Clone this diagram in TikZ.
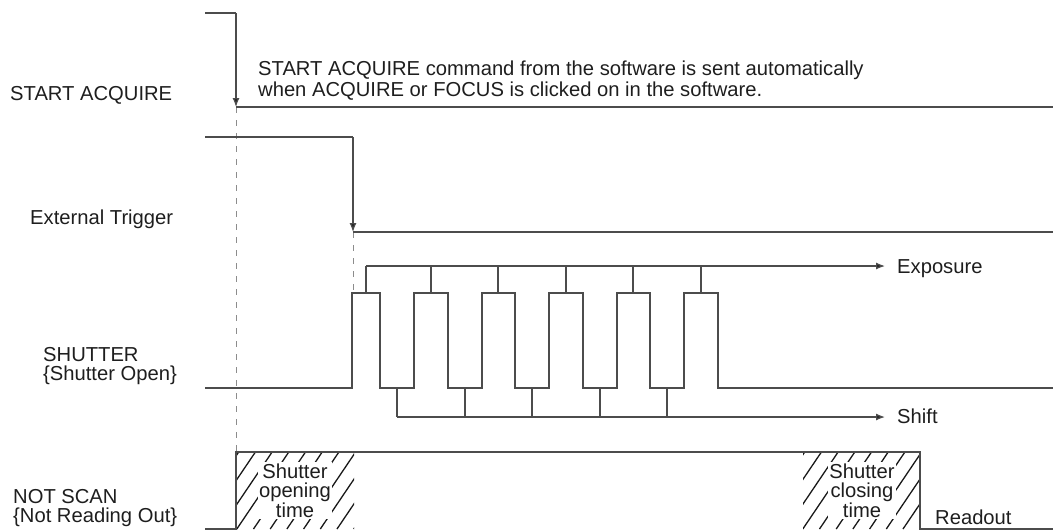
\documentclass[tikz,border=0pt]{standalone}
\usepackage{fontspec}
\setmainfont{Liberation Sans}
\usetikzlibrary{arrows.meta}
\definecolor{ink}{HTML}{1E1E1E}
\begin{document}
\begin{tikzpicture}[x=1pt,y=-1pt,
  sig/.style={draw=black!70,line width=1.2pt},
  arr/.style={sig,-{Latex[length=9pt,width=7pt,fill=black!85]}},
  guide/.style={draw=black!45,line width=0.9pt,dash pattern=on 6pt off 7pt},
  lbl/.style={anchor=base west,inner sep=0pt,text=ink,font=\fontsize{20.2}{20.3}\selectfont},
  hatchline/.style={draw=black!90,line width=1.3pt},
  boxtxt/.style={fill=white,inner sep=1.5pt,align=center,text=ink,font=\fontsize{20.2}{19.5}\selectfont}]
\useasboundingbox (0,0) rectangle (1053,531);

% ---------- hatched regions ----------
\begin{scope}
  \clip (236,452) rectangle (354,529);
  \foreach \x in {170,186.7,...,370} \draw[hatchline] (\x,529) -- ++(52,-77);
\end{scope}
\begin{scope}
  \clip (803,452) rectangle (920,529);
  \foreach \x in {736,752.7,...,940} \draw[hatchline] (\x,529) -- ++(52,-77);
\end{scope}
\node[boxtxt] (open) at (295,490.5) {Shutter\\opening\\time};
\node[boxtxt] (close) at (862,490.5) {Shutter\\closing\\time};

% ---------- guides ----------
\coordinate (sa0) at (205,13);
\coordinate (sa1) at (236,13);
\coordinate (sa2) at (236,107);
\coordinate (sa3) at (1053,107);
\coordinate (et0) at (205,137);
\coordinate (et1) at (353,137);
\coordinate (et2) at (353,232);
\coordinate (et3) at (1053,232);
\coordinate (nsTop) at (236,452);
\coordinate (shTop) at (353,293);
\draw[guide] (sa2) -- (nsTop);
\draw[guide] (et2) -- (shTop);

% ---------- START ACQUIRE ----------
\draw[sig] (sa0) -- (sa1);
\draw[arr] (sa1) -- (sa2);
\draw[sig] (sa2) -- (sa3);

% ---------- External Trigger ----------
\draw[sig] (et0) -- (et1);
\draw[arr] (et1) -- (et2);
\draw[sig] (et2) -- (et3);

% ---------- SHUTTER pulses ----------
\draw[sig] (205,388) -- (352,388) -- (352,293) -- (380,293) -- (380,388)
  -- (414,388) -- (414,293) -- (448,293) -- (448,388)
  -- (482,388) -- (482,293) -- (515,293) -- (515,388)
  -- (549,388) -- (549,293) -- (583,293) -- (583,388)
  -- (617,388) -- (617,293) -- (650,293) -- (650,388)
  -- (684,388) -- (684,293) -- (718,293) -- (718,388) -- (1053,388);

% Exposure bus
\coordinate (expS) at (366,266);
\coordinate (expE) at (885,266);
\draw[arr] (expS) -- (expE);
\foreach \x in {366,431,498,566,633,701} \draw[sig] (\x,266) -- (\x,293);
% Shift bus
\coordinate (shS) at (397,417);
\coordinate (shE) at (885,417);
\draw[arr] (shS) -- (shE);
\foreach \x in {397,465,532,600,667} \draw[sig] (\x,388) -- (\x,417);

% ---------- NOT SCAN ----------
\draw[sig] (205,529) -- (236,529) -- (236,452) -- (920,452) -- (920,529) -- (1053,529);

% ---------- labels ----------
\node[lbl] (lsa) at (10,100) {START ACQUIRE};
\node[lbl] (ann1) at (258,75.7) {START ACQUIRE command from the software is sent automatically};
\node[lbl] (ann2) at (258,96) {when ACQUIRE or FOCUS is clicked on in the software.};
\node[lbl] (let) at (30,224) {External Trigger};
\node[lbl] (lsh1) at (43,361) {SHUTTER};
\node[lbl] (lsh2) at (43,380.5) {\{Shutter Open\}};
\node[lbl] (lns1) at (13,503) {NOT SCAN};
\node[lbl] (lns2) at (13,522.5) {\{Not Reading Out\}};
\node[lbl] (lexp) at (897,273.3) {Exposure};
\node[lbl] (lshift) at (897,423) {Shift};
\node[lbl] (lread) at (935,524) {Readout};
\end{tikzpicture}
\end{document}
